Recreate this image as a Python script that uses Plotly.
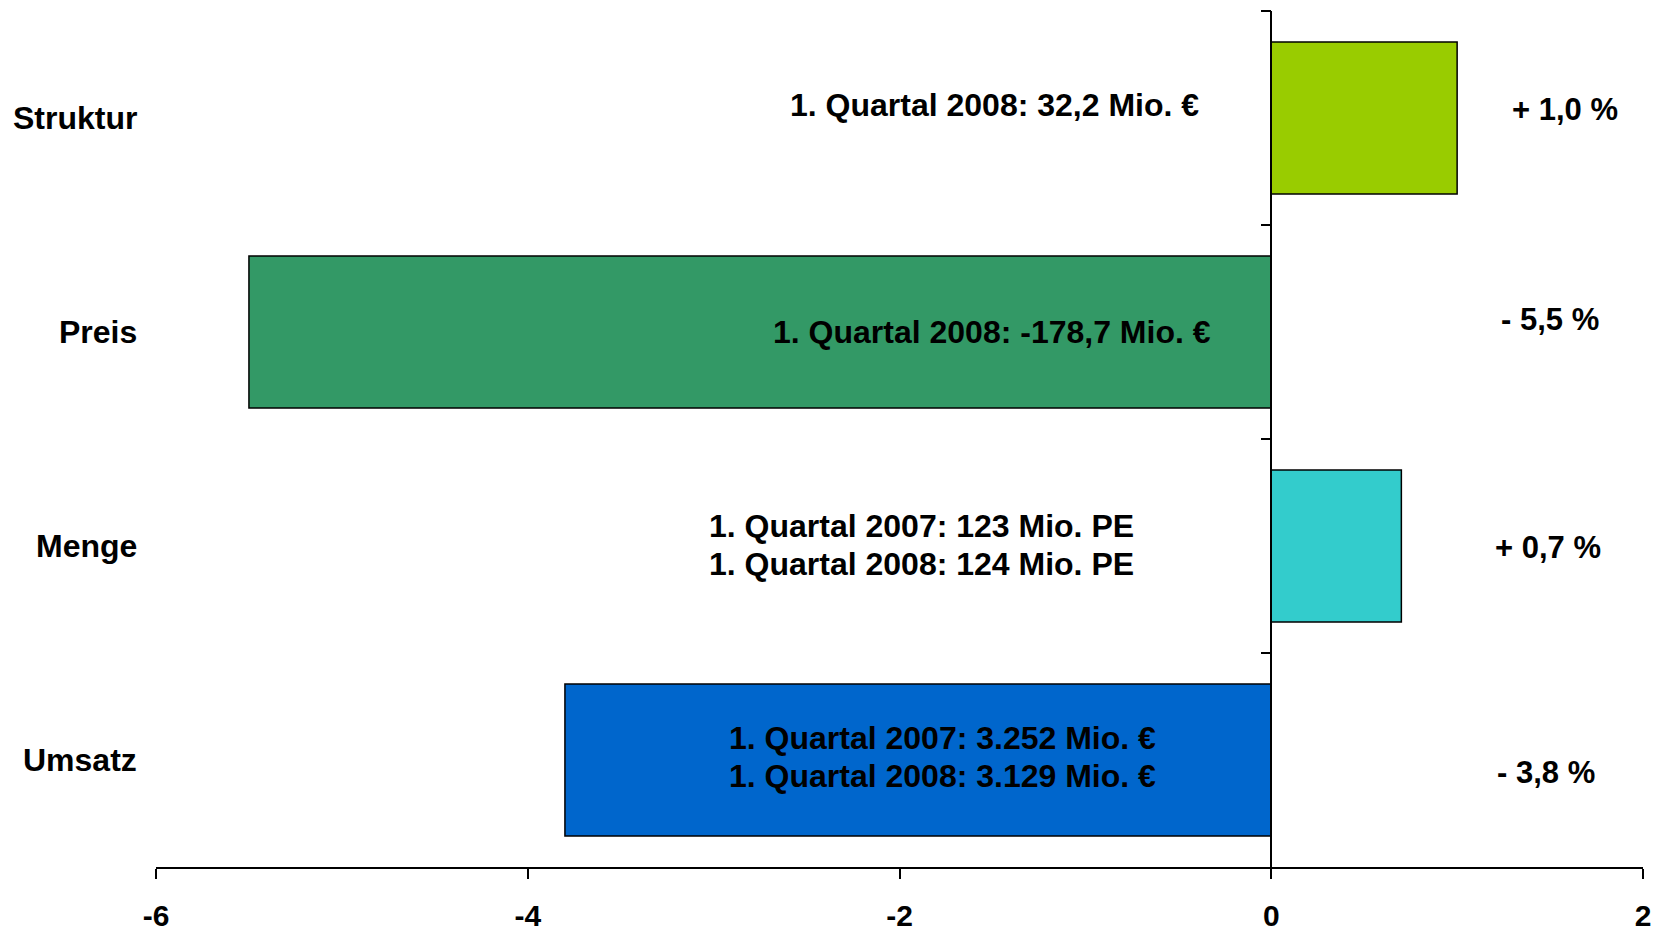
import plotly.graph_objects as go

# Data (top to bottom)
categories = ["Struktur", "Preis", "Menge", "Umsatz"]
values = [1.0, -5.5, 0.7, -3.8]
colors = ["#99CC00", "#339966", "#33CCCC", "#0066CC"]
pct_labels = ["+ 1,0 %", "- 5,5 %", "+ 0,7 %", "- 3,8 %"]
info_labels = [
    ["1. Quartal 2008: 32,2 Mio. €"],
    ["1. Quartal 2008: -178,7 Mio. €"],
    ["1. Quartal 2007: 123 Mio. PE", "1. Quartal 2008: 124 Mio. PE"],
    ["1. Quartal 2007: 3.252 Mio. €", "1. Quartal 2008: 3.129 Mio. €"],
]
x_ticks = [-6, -4, -2, 0, 2]

# Layout helpers (positions, not data)
info_x = [-1.49, -1.50, -1.88, -1.77]
info_shift = [[13], [0], [20, -18], [22, -16]]
pct_x = [1.58, 1.50, 1.49, 1.48]
pct_shift = [9, 13, -1, -12]

FONT = "Liberation Sans, Arial, sans-serif"
FS = 31
FS_INFO = 32

# page body has an 8px margin; compensate
OFF = 8

fig = go.Figure()
fig.add_trace(go.Bar(
    y=categories, x=values, orientation="h",
    marker=dict(color=colors, line=dict(color="black", width=1.5)),
    width=0.71, showlegend=False, hoverinfo="skip",
))

annotations = []
for i, cat in enumerate(categories):
    for line, shift in zip(info_labels[i], info_shift[i]):
        annotations.append(dict(
            x=info_x[i], y=cat, xref="x", yref="y", text=line,
            showarrow=False, yshift=shift, align="center",
            font=dict(family=FONT, size=FS_INFO, color="black", weight="bold"),
        ))
    annotations.append(dict(
        x=pct_x[i], y=cat, xref="x", yref="y", text=pct_labels[i],
        showarrow=False, yshift=pct_shift[i],
        font=dict(family=FONT, size=FS, color="black", weight="bold"),
    ))
    annotations.append(dict(
        x=0, y=cat, xref="paper", yref="y", text=cat,
        showarrow=False, xanchor="right", xshift=-17,
        font=dict(family=FONT, size=FS_INFO, color="black", weight="bold"),
    ))

fig.update_layout(
    width=1659 - OFF, height=932 - OFF,
    margin=dict(l=156 - OFF, r=16, t=11 - OFF, b=65, autoexpand=False),
    plot_bgcolor="white", paper_bgcolor="white",
    annotations=annotations,
    xaxis=dict(
        range=[-6, 2], tickvals=x_ticks, ticktext=[str(v) for v in x_ticks],
        showgrid=False, zeroline=False, showline=True, linecolor="black", linewidth=1.5,
        ticks="outside", ticklen=10, tickwidth=1.5, tickcolor="black",
        tickfont=dict(family=FONT, size=30, color="black", weight="bold"),
        ticklabelstandoff=11, automargin=False,
    ),
    yaxis=dict(
        anchor="free", position=0.75, autorange="reversed",
        categoryorder="array", categoryarray=categories,
        showgrid=False, zeroline=False, showline=True, linecolor="black", linewidth=1.5,
        ticks="outside", tickson="boundaries", ticklen=10, tickwidth=1.5, tickcolor="black",
        showticklabels=False, automargin=False,
    ),
)

fig.write_html("out.html")
